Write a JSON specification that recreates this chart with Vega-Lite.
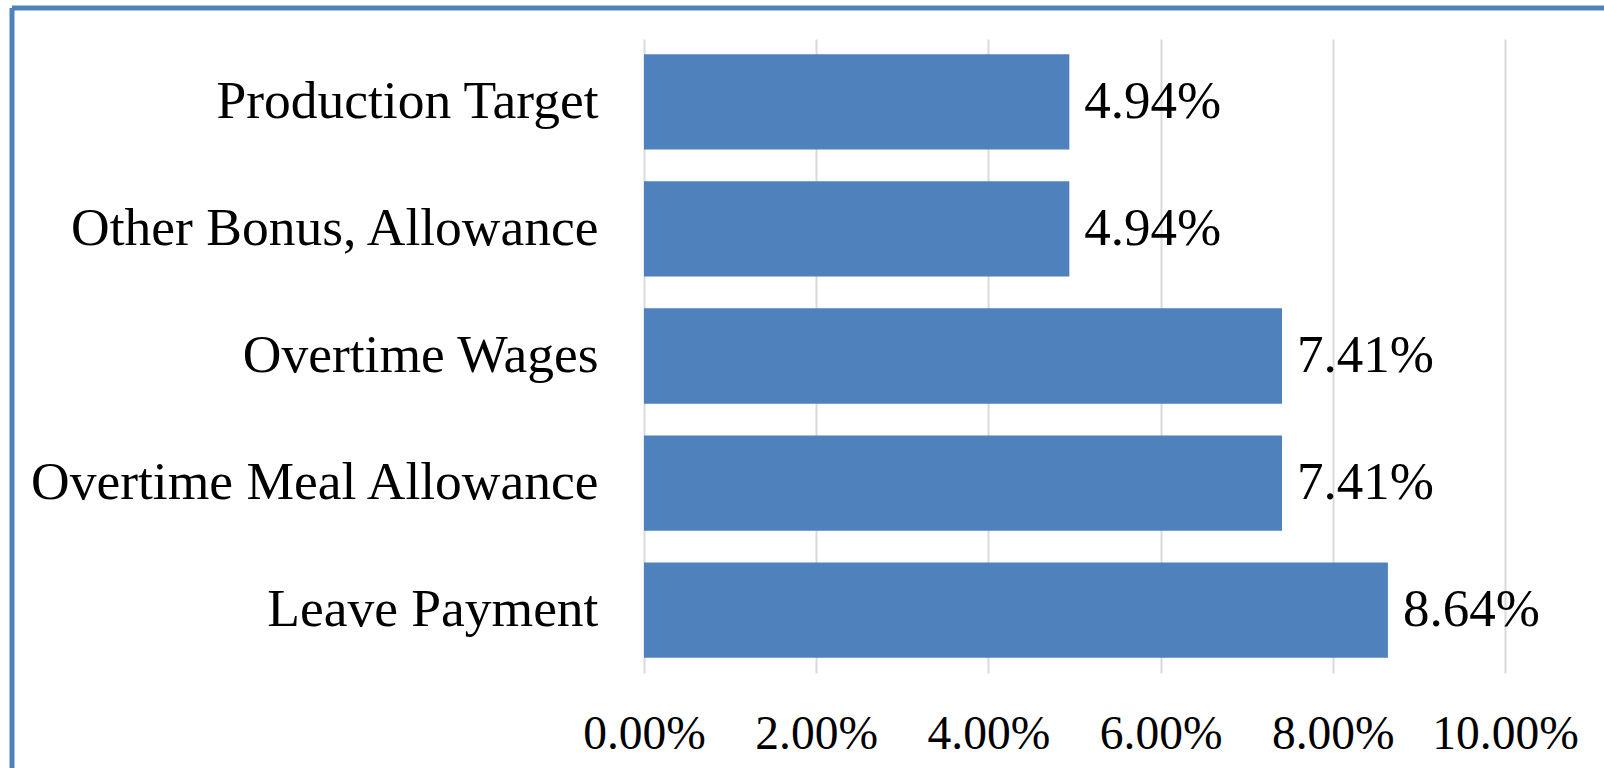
{
  "$schema": "https://vega.github.io/schema/vega-lite/v6.json",
  "width": 1592,
  "height": 760,
  "autosize": {"type": "none"},
  "padding": {"left": 12, "top": 8, "right": 0, "bottom": 0},
  "background": "white",
  "config": {
    "font": "Liberation Serif",
    "view": {"stroke": "#4F81BD", "strokeWidth": 5, "strokeDash": [1592, 2352, 760, 0]}
  },
  "data": {
    "values": [
      {"category": "Production Target", "value": 0.0494},
      {"category": "Other Bonus, Allowance", "value": 0.0494},
      {"category": "Overtime Wages", "value": 0.0741},
      {"category": "Overtime Meal Allowance", "value": 0.0741},
      {"category": "Leave Payment", "value": 0.0864}
    ]
  },
  "encoding": {
    "y": {
      "field": "category",
      "type": "nominal",
      "sort": ["Production Target", "Other Bonus, Allowance", "Overtime Wages", "Overtime Meal Allowance", "Leave Payment"],
      "scale": {"range": [31, 665], "paddingInner": 0.25, "paddingOuter": 0.12},
      "axis": {
        "title": null,
        "domain": false,
        "ticks": false,
        "tickSize": 0,
        "grid": false,
        "labelPadding": -586,
        "labelAlign": "right",
        "labelBaseline": "middle",
        "labelFontSize": 53.5,
        "labelFont": "Liberation Serif",
        "labelColor": "#000000",
        "labelLimit": 800
      }
    },
    "x": {
      "field": "value",
      "type": "quantitative",
      "scale": {"domain": [0, 0.1], "range": [632, 1493], "nice": false, "zero": true},
      "axis": {
        "orient": "top",
        "title": null,
        "domain": false,
        "ticks": false,
        "tickSize": 0,
        "values": [0, 0.02, 0.04, 0.06, 0.08, 0.1],
        "format": ".2%",
        "grid": true,
        "gridColor": "#D9D9D9",
        "gridWidth": 2,
        "labelPadding": -740,
        "labelBaseline": "alphabetic",
        "labelFlush": false,
        "labelOverlap": false,
        "labelFontSize": 47.5,
        "labelFont": "Liberation Serif",
        "labelColor": "#000000"
      }
    }
  },
  "layer": [
    {"mark": {"type": "bar", "color": "#4F81BD"}},
    {
      "mark": {"type": "text", "align": "left", "baseline": "middle", "dx": 15, "fontSize": 53, "font": "Liberation Serif", "color": "#000000"},
      "encoding": {"text": {"field": "value", "type": "quantitative", "format": ".2%"}}
    }
  ]
}
